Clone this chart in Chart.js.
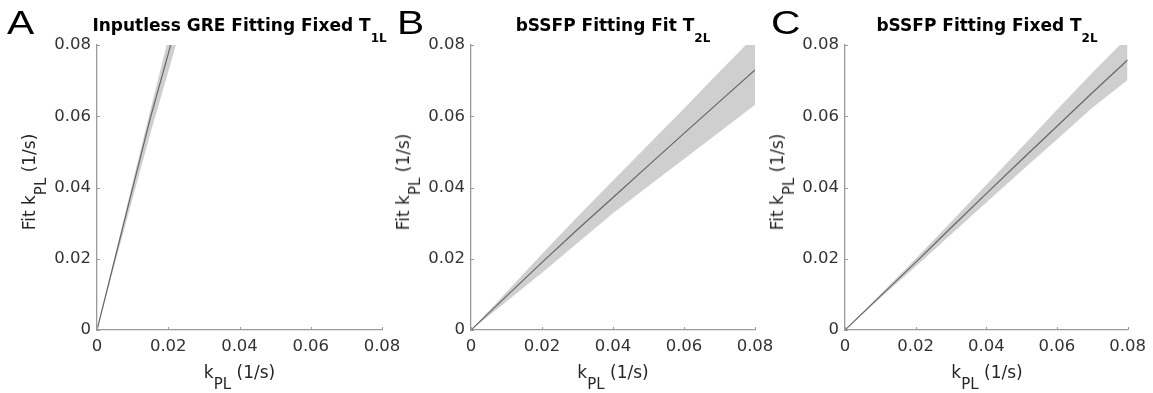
<!DOCTYPE html>
<html>
<head>
<meta charset="utf-8">
<script src="https://cdn.jsdelivr.net/npm/chart.js@4/dist/chart.umd.min.js"></script>
<style>
  html, body { margin: 0; padding: 0; background: #fff; }
  #wrap { position: relative; width: 1153px; height: 393px; overflow: hidden; background: #fff; }
  canvas { position: absolute; top: 0; }
  .lbl { position: absolute; white-space: nowrap; font-family: "DejaVu Sans", sans-serif; line-height: 17px; }
  .letter { position: absolute; font-family: "Liberation Sans", Arial, sans-serif; font-size: 34px; line-height: 34px; color: #000; transform: scaleX(1.2); transform-origin: 0 0; }
  .ttl { font-weight: bold; font-size: 17px; color: #000; transform: translateX(-50%); top: 16.6px; }
  .ttl .s { font-size: 12px; position: relative; top: 11px; }
  .xt { font-size: 17px; color: #262626; transform: translateX(-50%); top: 363.6px; }
  .xt .s, .yt .s { font-size: 15px; position: relative; top: 11px; }
  .yt { font-size: 17px; color: #262626; transform: translate(-50%, -50%) rotate(-90deg); }
</style>
</head>
<body>
<div id="wrap">
  <canvas id="cA" width="410" height="393" style="left:0px"></canvas>
  <canvas id="cB" width="400" height="393" style="left:384px"></canvas>
  <canvas id="cC" width="385" height="393" style="left:768px"></canvas>

  <div class="letter" style="left:7px; top:5px">A</div>
  <div class="letter" style="left:397px; top:5px">B</div>
  <div class="letter" style="left:771px; top:5px">C</div>

  <div class="lbl ttl" style="left:239.5px">Inputless GRE Fitting Fixed T<span class="s">1L</span></div>
  <div class="lbl ttl" style="left:613px">bSSFP Fitting Fit T<span class="s">2L</span></div>
  <div class="lbl ttl" style="left:987px">bSSFP Fitting Fixed T<span class="s">2L</span></div>

  <div class="lbl xt" style="left:239.5px">k<span class="s">PL</span> (1/s)</div>
  <div class="lbl xt" style="left:613px">k<span class="s">PL</span> (1/s)</div>
  <div class="lbl xt" style="left:987px">k<span class="s">PL</span> (1/s)</div>

  <div class="lbl yt" style="left:30px; top:182px">Fit k<span class="s">PL</span> (1/s)</div>
  <div class="lbl yt" style="left:404px; top:182px">Fit k<span class="s">PL</span> (1/s)</div>
  <div class="lbl yt" style="left:778px; top:182px">Fit k<span class="s">PL</span> (1/s)</div>
</div>

<script>
// ---------- data ----------
const tickValues = [0, 0.02, 0.04, 0.06, 0.08];
const tickLabels = ['0', '0.02', '0.04', '0.06', '0.08'];

// Panel A: Inputless GRE fitting, fixed T1L
const xA     = [0, 0.005, 0.010, 0.015, 0.020, 0.025];
const meanA  = [0, 0.0199, 0.0398, 0.0596, 0.0775, 0.0966];
const upperA = [0, 0.0208, 0.0414, 0.0618, 0.0818, 0.1020];
const lowerA = [0, 0.0185, 0.0370, 0.0552, 0.0725, 0.0900];

// Panels B and C: bSSFP fitting
const xBC    = [0, 0.01, 0.02, 0.03, 0.04, 0.05, 0.06, 0.07, 0.08];
const meanB  = [0, 0.0095, 0.0190, 0.0282, 0.0372, 0.0462, 0.0552, 0.0641, 0.0730];
const upperB = [0, 0.0107, 0.0213, 0.0318, 0.0420, 0.0521, 0.0622, 0.0725, 0.0826];
const lowerB = [0, 0.0080, 0.0161, 0.0244, 0.0328, 0.0404, 0.0480, 0.0556, 0.0632];

const meanC  = [0, 0.0095, 0.0190, 0.0287, 0.0383, 0.0478, 0.0572, 0.0666, 0.0758];
const upperC = [0, 0.0100, 0.0200, 0.0303, 0.0408, 0.0512, 0.0618, 0.0722, 0.0822];
const lowerC = [0, 0.0090, 0.0178, 0.0268, 0.0358, 0.0447, 0.0535, 0.0624, 0.0702];

// ---------- styling ----------
const AXIS_COLOR = '#9a9a9a';
const TICK_COLOR = '#333333';
const BAND_COLOR = '#cfcfcf';
const LINE_COLOR = '#666666';

Chart.defaults.font.family = '"DejaVu Sans", sans-serif';

const inwardTicks = {
  id: 'inwardTicks',
  afterDraw(chart) {
    const ctx = chart.ctx;
    const xs = chart.scales.x, ys = chart.scales.y;
    const area = chart.chartArea;
    ctx.save();
    ctx.strokeStyle = AXIS_COLOR;
    ctx.lineWidth = 1;
    xs.ticks.forEach(t => {
      const px = Math.round(xs.getPixelForValue(t.value)) + 0.5;
      ctx.beginPath(); ctx.moveTo(px, area.bottom); ctx.lineTo(px, area.bottom - 3); ctx.stroke();
    });
    ys.ticks.forEach(t => {
      const py = Math.round(ys.getPixelForValue(t.value)) + 0.5;
      ctx.beginPath(); ctx.moveTo(area.left, py); ctx.lineTo(area.left + 3, py); ctx.stroke();
    });
    ctx.restore();
  }
};

function axisOpts(horizontal) {
  return {
    type: 'linear',
    min: 0,
    max: 0.08,
    afterBuildTicks: s => { s.ticks = tickValues.map(v => ({ value: v })); },
    afterFit: s => { if (horizontal) { s.height = 63; } else { s.width = 60; } },
    grid: { display: false, drawTicks: false },
    border: { display: true, color: AXIS_COLOR, width: 1.3 },
    ticks: {
      color: TICK_COLOR,
      font: { size: 16.5 },
      padding: horizontal ? 7 : 6,
      maxRotation: 0,
      autoSkip: false,
      callback: (v, i) => tickLabels[i]
    }
  };
}

function makeChart(id, xs, mean, upper, lower, padLeft, padRight) {
  const pts = ys => xs.map((x, i) => ({ x: x, y: ys[i] }));
  return new Chart(document.getElementById(id), {
    type: 'line',
    data: {
      datasets: [
        { data: pts(mean), borderColor: LINE_COLOR, borderWidth: 1.2, fill: false, pointRadius: 0 },
        { data: pts(upper), borderColor: 'rgba(0,0,0,0)', borderWidth: 0, backgroundColor: BAND_COLOR, fill: '+1', pointRadius: 0 },
        { data: pts(lower), borderColor: 'rgba(0,0,0,0)', borderWidth: 0, fill: false, pointRadius: 0 }
      ]
    },
    options: {
      responsive: false,
      animation: false,
      devicePixelRatio: 1,
      layout: { padding: { left: padLeft, right: padRight, top: 45, bottom: 0 } },
      elements: { line: { tension: 0 } },
      plugins: { legend: { display: false }, tooltip: { enabled: false }, title: { display: false } },
      scales: { x: axisOpts(true), y: axisOpts(false) }
    },
    plugins: [inwardTicks]
  });
}

makeChart('cA', xA, meanA, upperA, lowerA, 37, 28);
makeChart('cB', xBC, meanB, upperB, lowerB, 27, 29);
makeChart('cC', xBC, meanC, upperC, lowerC, 17, 24);
</script>
</body>
</html>
